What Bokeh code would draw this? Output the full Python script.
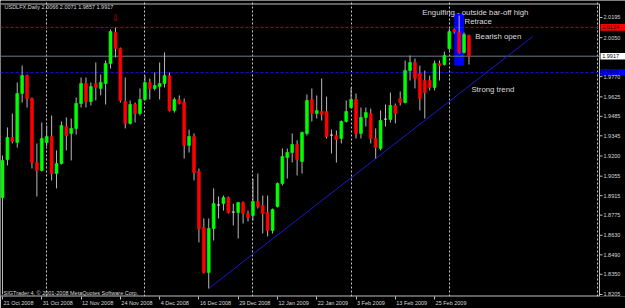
from bokeh.plotting import figure
from bokeh.models import (Range1d, FixedTicker, BoxAnnotation, Label, ColumnDataSource,
                          NumeralTickFormatter, CustomJSTickFormatter)
from bokeh.core.properties import value
from bokeh.embed import file_html
from bokeh.resources import INLINE

# ---------------- data (USDLFX daily) ----------------
opens = [
    1.8902, 1.9175, 1.9333, 1.9297, 1.9649, 1.9778, 1.9613, 1.9153, 1.9096, 1.9297,
    1.9340, 1.9074, 1.9146, 1.9412, 1.9362, 1.9398, 1.9577, 1.9721, 1.9591, 1.9721,
    1.9685, 1.9721, 1.9864, 2.0087, 1.9972, 1.9591, 1.9434, 1.9570, 1.9505, 1.9606,
    1.9728, 1.9685, 1.9699, 1.9721, 1.9778, 1.9527, 1.9606, 1.9584, 1.9276, 1.9340,
    1.9089, 1.8686, 1.8363, 1.8679, 1.8848, 1.8858, 1.8902, 1.8797, 1.8794, 1.8866,
    1.8787, 1.8773, 1.8873, 1.8844, 1.8794, 1.8665, 1.8837, 1.9002, 1.9189, 1.9225,
    1.9283, 1.9161, 1.9362, 1.9606, 1.9505, 1.9520, 1.9520, 1.9350, 1.9347, 1.9326,
    1.9448, 1.9548, 1.9606, 1.9362, 1.9477, 1.9505, 1.9326, 1.9254, 1.9465, 1.9462,
    1.9563, 1.9613, 1.9584, 1.9814, 1.9872, 1.9793, 1.9742, 1.9742, 1.9692, 1.9864,
    1.9857, 1.9972, 2.0109, 2.0087, 1.9944, 2.0066]
highs = [
    1.9204, 1.9405, 1.9505, 1.9728, 1.9850, 1.9785, 1.9620, 1.9290, 1.9441, 1.9419,
    1.9491, 1.9240, 1.9448, 1.9477, 1.9469, 1.9620, 1.9764, 1.9764, 1.9728, 1.9872,
    1.9785, 1.9886, 2.0109, 2.0123, 1.9979, 1.9764, 1.9599, 1.9584, 1.9685, 1.9778,
    1.9757, 1.9800, 1.9872, 1.9944, 1.9800, 1.9620, 1.9635, 1.9613, 1.9390, 1.9362,
    1.9110, 1.8751, 1.8751, 1.8967, 1.8909, 1.8916, 1.8909, 1.8858, 1.8866, 1.8873,
    1.8808, 1.9038, 1.9074, 1.8916, 1.8916, 1.8823, 1.9010, 1.9254, 1.9254, 1.9362,
    1.9312, 1.9376, 1.9642, 1.9685, 1.9635, 1.9757, 1.9627, 1.9390, 1.9383, 1.9455,
    1.9599, 1.9692, 1.9649, 1.9548, 1.9548, 1.9541, 1.9398, 1.9527, 1.9570, 1.9656,
    1.9577, 1.9663, 1.9886, 1.9922, 1.9900, 1.9850, 1.9814, 1.9778, 1.9886, 1.9886,
    1.9951, 2.0116, 2.0116, 2.0209, 2.0087, 2.0071]
lows = [
    1.8205, 1.9132, 1.9290, 1.9261, 1.9584, 1.9548, 1.9110, 1.8909, 1.9089, 1.9269,
    1.9024, 1.8967, 1.9139, 1.9240, 1.9168, 1.9355, 1.9548, 1.9548, 1.9563, 1.9599,
    1.9635, 1.9570, 1.9828, 1.9908, 1.9584, 1.9398, 1.9426, 1.9441, 1.9491, 1.9599,
    1.9606, 1.9671, 1.9606, 1.9692, 1.9520, 1.9512, 1.9570, 1.9182, 1.9225, 1.9024,
    1.8579, 1.8356, 1.8248, 1.8593, 1.8751, 1.8808, 1.8787, 1.8701, 1.8607, 1.8715,
    1.8730, 1.8737, 1.8823, 1.8643, 1.8622, 1.8643, 1.8830, 1.8988, 1.9038, 1.9153,
    1.9060, 1.9074, 1.9347, 1.9448, 1.9469, 1.9455, 1.9326, 1.9218, 1.9153, 1.9290,
    1.9441, 1.9541, 1.9326, 1.9326, 1.9412, 1.9290, 1.9182, 1.9240, 1.9412, 1.9441,
    1.9434, 1.9563, 1.9577, 1.9742, 1.9685, 1.9527, 1.9469, 1.9671, 1.9671, 1.9742,
    1.9850, 1.9958, 2.0080, 1.9936, 1.9936, 1.9857]
closes = [
    1.9168, 1.9333, 1.9304, 1.9649, 1.9778, 1.9613, 1.9153, 1.9096, 1.9326, 1.9340,
    1.9074, 1.9146, 1.9419, 1.9347, 1.9398, 1.9577, 1.9721, 1.9591, 1.9699, 1.9692,
    1.9728, 1.9864, 2.0094, 1.9972, 1.9599, 1.9434, 1.9570, 1.9505, 1.9606, 1.9728,
    1.9685, 1.9706, 1.9721, 1.9778, 1.9527, 1.9606, 1.9577, 1.9276, 1.9340, 1.9082,
    1.8679, 1.8363, 1.8679, 1.8858, 1.8848, 1.8902, 1.8794, 1.8797, 1.8866, 1.8787,
    1.8758, 1.8873, 1.8837, 1.8787, 1.8665, 1.8816, 1.9002, 1.9196, 1.9225, 1.9283,
    1.9175, 1.9369, 1.9599, 1.9505, 1.9527, 1.9498, 1.9340, 1.9350, 1.9319, 1.9448,
    1.9520, 1.9606, 1.9362, 1.9477, 1.9512, 1.9326, 1.9261, 1.9455, 1.9465, 1.9563,
    1.9505, 1.9584, 1.9814, 1.9872, 1.9757, 1.9613, 1.9656, 1.9692, 1.9864, 1.9850,
    1.9922, 2.0094, 2.0094, 1.9944, 2.0073, 1.9917]

date_labels = ["21 Oct 2008", "31 Oct 2008", "12 Nov 2008", "24 Nov 2008",
               "4 Dec 2008", "16 Dec 2008", "29 Dec 2008", "12 Jan 2009",
               "22 Jan 2009", "3 Feb 2009", "13 Feb 2009", "25 Feb 2009"]
bars_per_label = 8
month_start_bars = [9, 29, 51, 71, 91]
price_ticks = [2.0195, 2.0050, 1.9770, 1.9625, 1.9485, 1.9345, 1.9200,
               1.9055, 1.8915, 1.8775, 1.8630, 1.8490, 1.8350, 1.8205]

resistance_level = 2.0124
bid_level = 1.9917
support_level = 1.9800
trend_bars = [42, 108]
trend_prices = [1.8248, 2.0059]
engulf_bars = [92, 94]
engulf_prices = [2.0224, 1.9850]
fractal_bar = 23
title_text = "USDLFX,Daily  2.0066 2.0071 1.9857 1.9917"
copyright_text = "SIGTrader 4, \u00a9 2001-2008 MetaQuotes Software Corp."
notes_text = ["Engulfing - outside bar-off high", "Retrace", "Bearish open", "Strong trend"]

# ---------------- layout / styling ----------------
BULL, BEAR, DOJI = "#00ff00", "#ff0000", "#e0e0e0"
FG = "#d8d8d8"
EDGE_C = "#c0c0c0"
SMALL_PX = 5.5
SMALL = f"{SMALL_PX}px"
FONT = "Liberation Sans"
BAR_PX = 4.91                      # pixels per bar
W, H, BOTTOM = 625, 308, 12
FRAME_H = H - BOTTOM
X0 = -0.41
X1 = X0 + W / BAR_PX
EDGE = X0 + 599 / BAR_PX           # right edge of the chart window
GRID_EDGE = X0 + 597 / BAR_PX
Y1, Y0 = 2.03171, 1.81906
PPX = (Y1 - Y0) / FRAME_H          # price per pixel
TOP_LINE = Y1 - 3.5 * PPX
BOT_LINE = Y1 - 295.5 * PPX

idx = list(range(len(opens)))
colors = [BULL if c > o else (BEAR if c < o else DOJI) for o, c in zip(opens, closes)]
src = ColumnDataSource(dict(
    x=idx, h=highs, l=lows,
    top=[max(o, c) for o, c in zip(opens, closes)],
    bot=[min(o, c) for o, c in zip(opens, closes)],
    color=colors))

p = figure(width=W, height=H, output_backend="svg", toolbar_location=None,
           x_range=Range1d(X0, X1), y_range=Range1d(Y0, Y1),
           y_axis_location="right",
           min_border_left=0, min_border_right=0, min_border_top=0, min_border_bottom=BOTTOM,
           background_fill_color="black", border_fill_color="black")
p.outline_line_color = None

# ---- bottom (date) axis: labels start at the tick, as in MetaTrader ----
CHAR_W = {" ": 0.278, "O": 0.778, "c": 0.5, "t": 0.278, "N": 0.722, "v": 0.5,
          "D": 0.722, "J": 0.5, "F": 0.611}
def text_width(s):
    return sum(CHAR_W.get(ch, 0.556) for ch in s) * SMALL_PX

tick_bars = [bars_per_label * i for i in range(len(date_labels))]
label_centers = [b + (text_width(lab) / 2 + 1.0) / BAR_PX for b, lab in zip(tick_bars, date_labels)]
xa = p.xaxis[0]
xa.ticker = FixedTicker(ticks=label_centers, minor_ticks=tick_bars)
xa.formatter = CustomJSTickFormatter(
    args=dict(labels=date_labels, step=bars_per_label),
    code="const i = Math.floor(tick / step); return (i >= 0 && i < labels.length) ? labels[i] : '';")
xa.axis_line_color = None
xa.major_tick_line_color = None
xa.major_tick_out = 2
xa.minor_tick_line_color = EDGE_C
xa.minor_tick_out = 3
xa.minor_tick_in = 0
xa.major_label_text_color = FG
xa.major_label_text_font = FONT
xa.major_label_text_font_size = SMALL
xa.major_label_standoff = 0

# ---- price axis: labels drawn into the price-scale strip ----
ya = p.yaxis[0]
ya.ticker = FixedTicker(ticks=price_ticks)
ya.formatter = NumeralTickFormatter(format="0.0000")
ya.axis_line_color = None
ya.major_tick_line_color = None
ya.major_tick_out = 0
ya.major_tick_in = 0
ya.minor_tick_line_color = None
ya.major_label_text_color = FG
ya.major_label_text_font = FONT
ya.major_label_text_font_size = SMALL
ya.major_label_standoff = -22

# grid: month separators + dotted right edge
p.xgrid.ticker = FixedTicker(ticks=month_start_bars + [GRID_EDGE])
p.xgrid.grid_line_color = "#c8c8c8"
p.xgrid.grid_line_dash = "2 2"
p.ygrid.grid_line_color = None

# chart window frame (top, bottom, right) and price-scale tick marks
p.line([X0, EDGE], [TOP_LINE, TOP_LINE], line_color=EDGE_C, line_width=1)
p.line([X0, EDGE], [BOT_LINE, BOT_LINE], line_color=EDGE_C, line_width=1)
p.line([EDGE, EDGE], [BOT_LINE, TOP_LINE], line_color=EDGE_C, line_width=1)
p.segment(x0=[EDGE] * len(price_ticks), x1=[EDGE + 3 / BAR_PX] * len(price_ticks),
          y0=price_ticks, y1=price_ticks, line_color=EDGE_C, line_width=1)

# horizontal levels (stop at the chart edge)
p.line([X0, EDGE], [resistance_level] * 2, line_color="#c00000", line_dash="3 2", line_width=1)
p.line([X0, EDGE], [bid_level] * 2, line_color="#6a7a88", line_width=1)
p.line([X0, EDGE], [support_level] * 2, line_color="#1010d0", line_dash="3 2", line_width=1)

# engulfing highlight
p.add_layout(BoxAnnotation(left=engulf_bars[0], right=engulf_bars[1],
                           top=engulf_prices[0], bottom=engulf_prices[1],
                           fill_color="#0000ff", fill_alpha=1.0, line_color=None,
                           level="underlay"))

# trend line
p.line(trend_bars, trend_prices, line_color="#1a1ad0", line_width=1)

# candles
p.segment(x0="x", y0="h", x1="x", y1="l", source=src, line_color="#b8b8b8", line_width=1)
p.vbar(x="x", top="top", bottom="bot", width=0.6, fill_color="color",
       line_color="color", line_width=0.6, source=src)

# fractal arrow
p.text(x=[fractal_bar], y=[highs[fractal_bar] + 0.0065], text=["\u21e9"],
       text_color="#c00000", text_font=value("DejaVu Sans"), text_font_size="9px",
       text_align="center", text_baseline="middle")

# notes
p.text(x=[85.5, 94.1, 96.3, 95.5], y=[2.0233, 2.0166, 2.0059, 1.9678], text=notes_text,
       text_color="#dcdcdc", text_font=value(FONT), text_font_size="7.8px",
       text_align="left", text_baseline="middle")

# price boxes on the scale
box_levels = [resistance_level, bid_level, support_level]
box_fill = ["#ff0000", "#ffffff", "#0000ff"]
box_text_color = ["#200000", "#000000", "#000030"]
p.quad(left=[EDGE + 0.2] * 3, right=[X1] * 3,
       top=[v + 3.3 * PPX for v in box_levels], bottom=[v - 3.3 * PPX for v in box_levels],
       fill_color=box_fill, line_color=None)
p.text(x=[EDGE + 0.55] * 3, y=box_levels, text=[f"{v:.4f}" for v in box_levels],
       text_color=box_text_color, text_font=value(FONT), text_font_size=SMALL,
       text_align="left", text_baseline="middle")

# title & copyright
p.add_layout(Label(x=4, y=FRAME_H - 6, x_units="screen", y_units="screen", text=title_text,
                   text_color=FG, text_font=FONT, text_font_size=SMALL,
                   text_baseline="middle"))
p.add_layout(Label(x=3, y=FRAME_H - 292, x_units="screen", y_units="screen", text=copyright_text,
                   text_color=FG, text_font=FONT, text_font_size=SMALL,
                   text_baseline="middle"))

open("out.html", "w").write(file_html(p, INLINE))
